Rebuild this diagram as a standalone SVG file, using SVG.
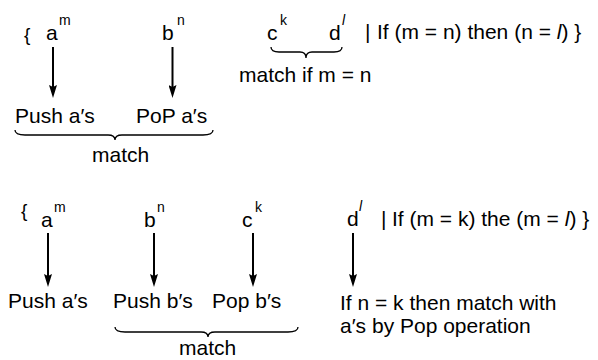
<svg xmlns="http://www.w3.org/2000/svg" width="598" height="360" viewBox="0 0 598 360">
<style>
text { font-family: "Liberation Sans", Arial, sans-serif; fill: #000; }
.t { font-size: 21px; }
.s { font-size: 14px; }
.b { font-size: 19px; }
.i { font-style: italic; }
.arr { stroke: #000; stroke-width: 2; fill: none; marker-end: url(#ah); }
.brace { stroke: #000; stroke-width: 1.3; fill: none; }
</style>
<defs>
<marker id="ah" viewBox="0 0 13 8" markerWidth="13" markerHeight="8" refX="5" refY="4" orient="auto" markerUnits="userSpaceOnUse">
<path d="M0,0 L13,4 L0,8 L2,4 Z" fill="#000"/>
</marker>
</defs>
<rect width="598" height="360" fill="#fff"/>

<g id="connectors">
<line class="arr" x1="53" y1="47" x2="53" y2="90"/>
<line class="arr" x1="172.5" y1="47" x2="172.5" y2="90"/>
<line class="arr" x1="48" y1="233" x2="48" y2="279"/>
<line class="arr" x1="154" y1="233" x2="154" y2="279"/>
<line class="arr" x1="253" y1="233" x2="253" y2="279"/>
<line class="arr" x1="353" y1="233" x2="353" y2="279"/>
</g>

<g id="row1-input">
<text class="b" x="24" y="41">{</text>
<text class="t" x="46" y="40">a</text><text class="s" x="59" y="25">m</text>
<text class="t" x="162" y="40">b</text><text class="s" x="177" y="25">n</text>
<text class="t" x="267" y="40">c</text><text class="s" x="280" y="25">k</text>
<text class="t" x="329" y="40">d</text><text class="s i" x="342" y="25">l</text>
<text class="t" x="365" y="39">|</text>
<text class="t" x="377" y="39">If (m = n) then (n = <tspan class="i">l</tspan>) }</text>
</g>

<g id="row1-ops">
<text class="t" x="15" y="123">Push a′s</text>
<text class="t" x="136" y="123">PoP a′s</text>
</g>

<g id="row1-brace-cd">
<path class="brace" d="M271,47 Q271,52 279,52 L300,52 Q306,52 306,58 Q306,52 312,52 L334,52 Q342,52 342,47"/>
<text class="t" x="239" y="82">match if m = n</text>
</g>

<g id="row1-brace-ab">
<path class="brace" d="M15,130 Q15,135 25,135 L108,135 Q115,135 115,140 Q115,135 122,135 L203,135 Q213,135 213,130"/>
<text class="t" x="92" y="162">match</text>
</g>

<g id="row2-input">
<text class="b" x="21" y="217">{</text>
<text class="t" x="41" y="227">a</text><text class="s" x="54" y="212">m</text>
<text class="t" x="144" y="227">b</text><text class="s" x="157" y="212">n</text>
<text class="t" x="242" y="227">c</text><text class="s" x="255" y="212">k</text>
<text class="t" x="347" y="226">d</text><text class="s i" x="359" y="211">l</text>
<text class="t" x="381" y="226">|</text>
<text class="t" x="392" y="226">If (m = k) the (m = <tspan class="i">l</tspan>) }</text>
</g>

<g id="row2-ops">
<text class="t" x="8" y="308">Push a′s</text>
<text class="t" x="113" y="308">Push b′s</text>
<text class="t" x="212" y="308">Pop b′s</text>
<text class="t" x="340" y="310">If n = k then match with</text>
<text class="t" x="340" y="333">a′s by Pop operation</text>
</g>

<g id="row2-brace">
<path class="brace" d="M115,327 Q115,332 125,332 L201,332 Q208,332 208,337 Q208,332 215,332 L288,332 Q298,332 298,327"/>
<text class="t" x="179" y="355">match</text>
</g>
</svg>
